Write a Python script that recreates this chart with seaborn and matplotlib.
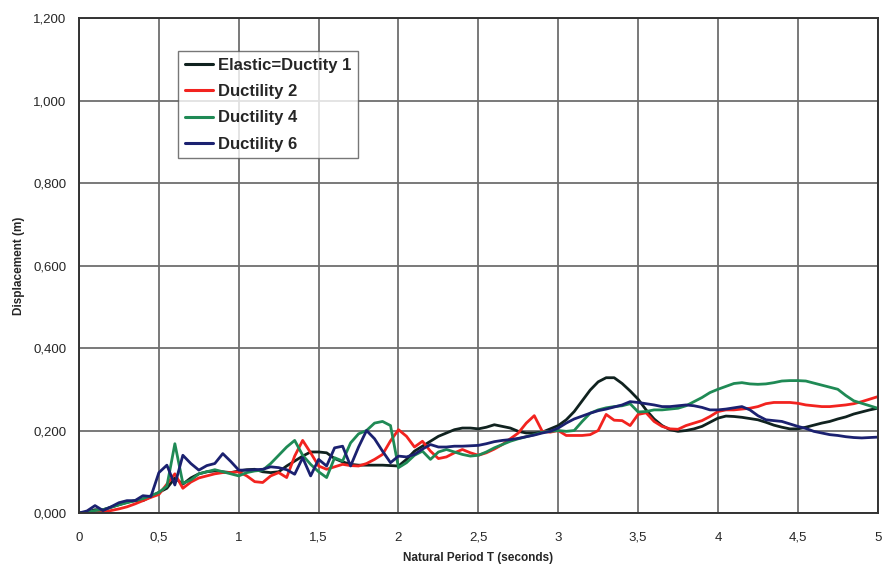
import numpy as np
import pandas as pd
import matplotlib
matplotlib.use("Agg")
import matplotlib.pyplot as plt
import seaborn as sns

# natural period grid (s), 0.05 s step
period = [round(0.05 * i, 2) for i in range(101)]

elastic = [
    0.000, 0.002, 0.008, 0.008, 0.014, 0.020, 0.026, 0.030, 0.030, 0.040,
    0.050, 0.060, 0.085, 0.070, 0.085, 0.095, 0.100, 0.102, 0.100, 0.098,
    0.102, 0.105, 0.106, 0.100, 0.098, 0.100, 0.114, 0.126, 0.138, 0.148,
    0.148, 0.146, 0.132, 0.124, 0.118, 0.116, 0.116, 0.116, 0.116, 0.115,
    0.114, 0.130, 0.150, 0.162, 0.174, 0.186, 0.194, 0.202, 0.206, 0.206,
    0.204, 0.208, 0.214, 0.210, 0.206, 0.198, 0.194, 0.194, 0.196, 0.204,
    0.212, 0.226, 0.246, 0.272, 0.298, 0.318, 0.328, 0.328, 0.314, 0.296,
    0.276, 0.250, 0.228, 0.212, 0.202, 0.198, 0.200, 0.204, 0.210, 0.220,
    0.230, 0.235, 0.234, 0.232, 0.229, 0.226, 0.220, 0.213, 0.208, 0.204,
    0.204, 0.208, 0.213, 0.218, 0.222, 0.228, 0.233, 0.240, 0.245, 0.250,
    0.254,
]
ductility2 = [
    0.000, 0.000, 0.001, 0.002, 0.006, 0.010, 0.015, 0.022, 0.030, 0.038,
    0.045, 0.070, 0.095, 0.060, 0.075, 0.085, 0.090, 0.095, 0.098, 0.098,
    0.100, 0.090, 0.076, 0.074, 0.090, 0.098, 0.086, 0.138, 0.176, 0.146,
    0.114, 0.106, 0.112, 0.118, 0.115, 0.114, 0.120, 0.130, 0.142, 0.175,
    0.202, 0.186, 0.160, 0.174, 0.150, 0.132, 0.136, 0.146, 0.154, 0.146,
    0.140, 0.146, 0.155, 0.166, 0.180, 0.194, 0.218, 0.236, 0.198, 0.196,
    0.200, 0.188, 0.188, 0.188, 0.190, 0.200, 0.239, 0.225, 0.224, 0.212,
    0.239, 0.243, 0.222, 0.210, 0.204, 0.203, 0.212, 0.218, 0.224, 0.234,
    0.246, 0.250, 0.250, 0.252, 0.254, 0.258, 0.265, 0.268, 0.268, 0.268,
    0.266, 0.262, 0.260, 0.258, 0.258, 0.260, 0.262, 0.265, 0.270, 0.276,
    0.282,
]
ductility4 = [
    0.000, 0.002, 0.006, 0.008, 0.014, 0.020, 0.025, 0.030, 0.035, 0.042,
    0.050, 0.065, 0.168, 0.072, 0.080, 0.095, 0.100, 0.105, 0.100, 0.095,
    0.090, 0.098, 0.102, 0.104, 0.120, 0.140, 0.160, 0.176, 0.140, 0.118,
    0.100, 0.086, 0.134, 0.126, 0.170, 0.192, 0.200, 0.218, 0.222, 0.212,
    0.110, 0.122, 0.140, 0.150, 0.130, 0.148, 0.154, 0.148, 0.142, 0.138,
    0.140, 0.148, 0.158, 0.166, 0.174, 0.180, 0.185, 0.190, 0.196, 0.198,
    0.200, 0.198, 0.200, 0.222, 0.242, 0.250, 0.255, 0.258, 0.260, 0.265,
    0.245, 0.246, 0.250, 0.250, 0.252, 0.254, 0.260, 0.270, 0.280, 0.292,
    0.300, 0.307, 0.314, 0.316, 0.313, 0.312, 0.313, 0.316, 0.320, 0.321,
    0.321, 0.320, 0.315, 0.310, 0.305, 0.300, 0.285, 0.272, 0.266, 0.260,
    0.254,
]
ductility6 = [
    0.000, 0.005, 0.018, 0.006, 0.015, 0.025, 0.030, 0.030, 0.042, 0.040,
    0.098, 0.116, 0.068, 0.140, 0.120, 0.104, 0.115, 0.120, 0.144, 0.125,
    0.104, 0.104, 0.105, 0.106, 0.112, 0.110, 0.105, 0.094, 0.134, 0.090,
    0.130, 0.114, 0.158, 0.162, 0.114, 0.160, 0.200, 0.180, 0.150, 0.122,
    0.138, 0.136, 0.142, 0.155, 0.166, 0.160, 0.160, 0.162, 0.162, 0.163,
    0.164, 0.168, 0.173, 0.176, 0.178, 0.181, 0.185, 0.189, 0.194, 0.198,
    0.206, 0.218, 0.228, 0.235, 0.242, 0.248, 0.252, 0.257, 0.262, 0.270,
    0.268, 0.265, 0.262, 0.258, 0.258, 0.260, 0.262, 0.260, 0.256, 0.250,
    0.250, 0.252, 0.255, 0.258, 0.250, 0.236, 0.226, 0.224, 0.222, 0.216,
    0.210, 0.205, 0.198, 0.194, 0.190, 0.188, 0.185, 0.183, 0.182, 0.183,
    0.184,
]

series_names = ["Elastic=Ductity 1", "Ductility 2", "Ductility 4", "Ductility 6"]
series_colors = ["#10221f", "#f2231f", "#1f8a55", "#1b2170"]

x_ticks = [0, 0.5, 1, 1.5, 2, 2.5, 3, 3.5, 4, 4.5, 5]
x_tick_labels = ["0", "0,5", "1", "1,5", "2", "2,5", "3", "3,5", "4", "4,5", "5"]
y_ticks = [0.0, 0.2, 0.4, 0.6, 0.8, 1.0, 1.2]
y_tick_labels = ["0,000", "0,200", "0,400", "0,600", "0,800", "1,000", "1,200"]

df = pd.concat(
    [pd.DataFrame({"period": period, "disp": vals, "series": name})
     for name, vals in zip(series_names, [elastic, ductility2, ductility4, ductility6])],
    ignore_index=True,
)

sns.set_style("white")
plt.rcParams["font.family"] = ["Liberation Sans", "DejaVu Sans"]

fig = plt.figure(figsize=(8.83, 5.66), dpi=100)
ax = fig.add_axes([0.0895, 0.0936, 0.9045, 0.8746])

sns.lineplot(data=df, x="period", y="disp", hue="series", hue_order=series_names,
             palette=series_colors, linewidth=2.0, ax=ax, legend=True)

ax.set_xlim(0, 5)
ax.set_ylim(0, 1.2)
ax.set_xticks(x_ticks)
ax.set_xticklabels(x_tick_labels, fontsize=9.5, va="baseline")
ax.set_yticks(y_ticks)
ax.set_yticklabels(y_tick_labels, fontsize=9.5)
ax.grid(True, color="#6e6e6e", linewidth=1.3)
ax.set_axisbelow(True)
ax.tick_params(axis="both", length=4, color="#444444")
ax.tick_params(axis="x", pad=16)
ax.tick_params(axis="y", pad=5)
for sp in ax.spines.values():
    sp.set_color("#333333")
    sp.set_linewidth(1.4)

ax.set_xlabel("Natural Period T (seconds)", fontsize=8.5, fontweight="bold", labelpad=6)
ax.set_ylabel("Displacement (m)", fontsize=8.5, fontweight="bold", labelpad=6)

leg = ax.legend(loc="upper left", bbox_to_anchor=(0.124, 0.933), borderaxespad=0,
                frameon=True, fancybox=False, prop={"weight": "bold", "size": 12},
                handlelength=1.7, borderpad=0.4, labelspacing=0.68, handletextpad=0.3)
leg.get_frame().set_edgecolor("#555555")
leg.get_frame().set_linewidth(1.0)
for line in leg.get_lines():
    line.set_linewidth(2.2)

fig.savefig("out.png", dpi=100)
